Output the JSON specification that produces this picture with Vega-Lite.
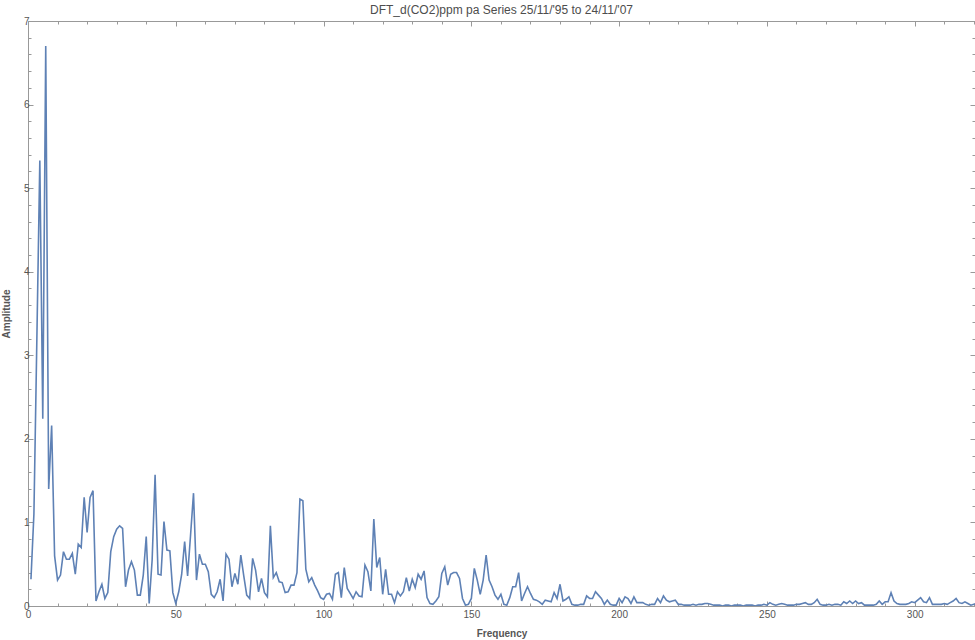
{
  "$schema": "https://vega.github.io/schema/vega-lite/v6.json",
  "autosize": {"type": "none"},
  "padding": {"left": 28, "top": 21, "right": 0, "bottom": 34},
  "width": 947,
  "height": 585,
  "background": "white",
  "title": {"text": "DFT_d(CO2)ppm pa Series 25/11/'95 to 24/11/'07", "font": "Liberation Sans", "fontSize": 12, "fontWeight": "normal", "color": "#4d4d4d", "anchor": "middle", "baseline": "alphabetic", "offset": -10},
  "config": {
    "view": {"stroke": "#999999", "strokeWidth": 1},
    "axis": {"domain": false, "grid": false, "minExtent": 0, "tickColor": "#999999", "tickWidth": 1, "labelFont": "Liberation Sans", "labelFontSize": 10, "labelColor": "#555555", "titleFont": "Liberation Sans", "titleFontSize": 10, "titleFontWeight": "bold", "titleColor": "#555555", "labelFlush": false, "labelOverlap": false}
  },
  "data": {"values": [
    {"f":1,"a":0.32},{"f":2,"a":1.1},{"f":3,"a":3.2},{"f":4,"a":5.33},{"f":5,"a":2.24},{"f":6,"a":6.7},{"f":7,"a":1.4},{"f":8,"a":2.16},{"f":9,"a":0.6},{"f":10,"a":0.31},
    {"f":11,"a":0.37},{"f":12,"a":0.65},{"f":13,"a":0.56},{"f":14,"a":0.56},{"f":15,"a":0.63},{"f":16,"a":0.38},{"f":17,"a":0.74},{"f":18,"a":0.7},{"f":19,"a":1.3},{"f":20,"a":0.88},
    {"f":21,"a":1.3},{"f":22,"a":1.38},{"f":23,"a":0.06},{"f":24,"a":0.17},{"f":25,"a":0.26},{"f":26,"a":0.09},{"f":27,"a":0.16},{"f":28,"a":0.65},{"f":29,"a":0.83},{"f":30,"a":0.92},
    {"f":31,"a":0.96},{"f":32,"a":0.93},{"f":33,"a":0.23},{"f":34,"a":0.43},{"f":35,"a":0.53},{"f":36,"a":0.43},{"f":37,"a":0.13},{"f":38,"a":0.13},{"f":39,"a":0.37},{"f":40,"a":0.83},
    {"f":41,"a":0.03},{"f":42,"a":0.55},{"f":43,"a":1.57},{"f":44,"a":0.38},{"f":45,"a":0.37},{"f":46,"a":1.01},{"f":47,"a":0.67},{"f":48,"a":0.66},{"f":49,"a":0.16},{"f":50,"a":0.03},
    {"f":51,"a":0.17},{"f":52,"a":0.38},{"f":53,"a":0.77},{"f":54,"a":0.36},{"f":55,"a":0.85},{"f":56,"a":1.35},{"f":57,"a":0.31},{"f":58,"a":0.62},{"f":59,"a":0.5},{"f":60,"a":0.5},
    {"f":61,"a":0.41},{"f":62,"a":0.14},{"f":63,"a":0.1},{"f":64,"a":0.17},{"f":65,"a":0.32},{"f":66,"a":0.06},{"f":67,"a":0.62},{"f":68,"a":0.56},{"f":69,"a":0.23},{"f":70,"a":0.39},
    {"f":71,"a":0.26},{"f":72,"a":0.61},{"f":73,"a":0.36},{"f":74,"a":0.13},{"f":75,"a":0.09},{"f":76,"a":0.57},{"f":77,"a":0.43},{"f":78,"a":0.17},{"f":79,"a":0.33},{"f":80,"a":0.16},
    {"f":81,"a":0.11},{"f":82,"a":0.96},{"f":83,"a":0.34},{"f":84,"a":0.4},{"f":85,"a":0.29},{"f":86,"a":0.28},{"f":87,"a":0.16},{"f":88,"a":0.17},{"f":89,"a":0.25},{"f":90,"a":0.25},
    {"f":91,"a":0.4},{"f":92,"a":1.28},{"f":93,"a":1.26},{"f":94,"a":0.44},{"f":95,"a":0.29},{"f":96,"a":0.34},{"f":97,"a":0.25},{"f":98,"a":0.18},{"f":99,"a":0.1},{"f":100,"a":0.08},
    {"f":101,"a":0.14},{"f":102,"a":0.15},{"f":103,"a":0.08},{"f":104,"a":0.38},{"f":105,"a":0.4},{"f":106,"a":0.1},{"f":107,"a":0.46},{"f":108,"a":0.21},{"f":109,"a":0.15},{"f":110,"a":0.09},
    {"f":111,"a":0.17},{"f":112,"a":0.12},{"f":113,"a":0.11},{"f":114,"a":0.49},{"f":115,"a":0.41},{"f":116,"a":0.18},{"f":117,"a":1.04},{"f":118,"a":0.46},{"f":119,"a":0.58},{"f":120,"a":0.14},
    {"f":121,"a":0.44},{"f":122,"a":0.14},{"f":123,"a":0.14},{"f":124,"a":0.04},{"f":125,"a":0.17},{"f":126,"a":0.12},{"f":127,"a":0.17},{"f":128,"a":0.34},{"f":129,"a":0.18},{"f":130,"a":0.32},
    {"f":131,"a":0.22},{"f":132,"a":0.38},{"f":133,"a":0.32},{"f":134,"a":0.42},{"f":135,"a":0.1},{"f":136,"a":0.03},{"f":137,"a":0.02},{"f":138,"a":0.06},{"f":139,"a":0.11},{"f":140,"a":0.39},
    {"f":141,"a":0.47},{"f":142,"a":0.25},{"f":143,"a":0.38},{"f":144,"a":0.4},{"f":145,"a":0.4},{"f":146,"a":0.33},{"f":147,"a":0.09},{"f":148,"a":0.01},{"f":149,"a":0.02},{"f":150,"a":0.09},
    {"f":151,"a":0.45},{"f":152,"a":0.31},{"f":153,"a":0.14},{"f":154,"a":0.31},{"f":155,"a":0.61},{"f":156,"a":0.31},{"f":157,"a":0.23},{"f":158,"a":0.13},{"f":159,"a":0.08},{"f":160,"a":0.14},
    {"f":161,"a":0.02},{"f":162,"a":0.01},{"f":163,"a":0.1},{"f":164,"a":0.23},{"f":165,"a":0.23},{"f":166,"a":0.4},{"f":167,"a":0.06},{"f":168,"a":0.15},{"f":169,"a":0.23},{"f":170,"a":0.15},
    {"f":171,"a":0.08},{"f":172,"a":0.07},{"f":173,"a":0.05},{"f":174,"a":0.02},{"f":175,"a":0.07},{"f":176,"a":0.06},{"f":177,"a":0.05},{"f":178,"a":0.16},{"f":179,"a":0.09},{"f":180,"a":0.26},
    {"f":181,"a":0.06},{"f":182,"a":0.08},{"f":183,"a":0.11},{"f":184,"a":0.02},{"f":185,"a":0.01},{"f":186,"a":0.01},{"f":187,"a":0.02},{"f":188,"a":0.02},{"f":189,"a":0.12},{"f":190,"a":0.09},
    {"f":191,"a":0.09},{"f":192,"a":0.17},{"f":193,"a":0.13},{"f":194,"a":0.09},{"f":195,"a":0.02},{"f":196,"a":0.07},{"f":197,"a":0.02},{"f":198,"a":0.01},{"f":199,"a":0.01},{"f":200,"a":0.09},
    {"f":201,"a":0.04},{"f":202,"a":0.11},{"f":203,"a":0.09},{"f":204,"a":0.03},{"f":205,"a":0.11},{"f":206,"a":0.04},{"f":207,"a":0.04},{"f":208,"a":0.04},{"f":209,"a":0.02},{"f":210,"a":0.01},
    {"f":211,"a":0.02},{"f":212,"a":0.02},{"f":213,"a":0.09},{"f":214,"a":0.04},{"f":215,"a":0.12},{"f":216,"a":0.07},{"f":217,"a":0.05},{"f":218,"a":0.06},{"f":219,"a":0.07},{"f":220,"a":0.02},
    {"f":221,"a":0.02},{"f":222,"a":0.01},{"f":223,"a":0.01},{"f":224,"a":0.01},{"f":225,"a":0.02},{"f":226,"a":0.01},{"f":227,"a":0.02},{"f":228,"a":0.02},{"f":229,"a":0.03},{"f":230,"a":0.03},
    {"f":231,"a":0.02},{"f":232,"a":0.01},{"f":233,"a":0.01},{"f":234,"a":0.01},{"f":235,"a":0.0},{"f":236,"a":0.01},{"f":237,"a":0.01},{"f":238,"a":0.0},{"f":239,"a":0.01},{"f":240,"a":0.01},
    {"f":241,"a":0.01},{"f":242,"a":0.0},{"f":243,"a":0.01},{"f":244,"a":0.01},{"f":245,"a":0.01},{"f":246,"a":0.0},{"f":247,"a":0.01},{"f":248,"a":0.01},{"f":249,"a":0.02},{"f":250,"a":0.01},
    {"f":251,"a":0.04},{"f":252,"a":0.02},{"f":253,"a":0.01},{"f":254,"a":0.02},{"f":255,"a":0.03},{"f":256,"a":0.02},{"f":257,"a":0.01},{"f":258,"a":0.01},{"f":259,"a":0.01},{"f":260,"a":0.02},
    {"f":261,"a":0.02},{"f":262,"a":0.03},{"f":263,"a":0.04},{"f":264,"a":0.02},{"f":265,"a":0.02},{"f":266,"a":0.04},{"f":267,"a":0.08},{"f":268,"a":0.02},{"f":269,"a":0.01},{"f":270,"a":0.01},
    {"f":271,"a":0.02},{"f":272,"a":0.01},{"f":273,"a":0.02},{"f":274,"a":0.02},{"f":275,"a":0.01},{"f":276,"a":0.05},{"f":277,"a":0.03},{"f":278,"a":0.06},{"f":279,"a":0.03},{"f":280,"a":0.06},
    {"f":281,"a":0.03},{"f":282,"a":0.04},{"f":283,"a":0.01},{"f":284,"a":0.01},{"f":285,"a":0.01},{"f":286,"a":0.01},{"f":287,"a":0.02},{"f":288,"a":0.06},{"f":289,"a":0.02},{"f":290,"a":0.05},
    {"f":291,"a":0.05},{"f":292,"a":0.16},{"f":293,"a":0.06},{"f":294,"a":0.03},{"f":295,"a":0.02},{"f":296,"a":0.02},{"f":297,"a":0.02},{"f":298,"a":0.03},{"f":299,"a":0.05},{"f":300,"a":0.04},
    {"f":301,"a":0.07},{"f":302,"a":0.1},{"f":303,"a":0.05},{"f":304,"a":0.04},{"f":305,"a":0.1},{"f":306,"a":0.02},{"f":307,"a":0.02},{"f":308,"a":0.02},{"f":309,"a":0.02},{"f":310,"a":0.03},
    {"f":311,"a":0.02},{"f":312,"a":0.04},{"f":313,"a":0.06},{"f":314,"a":0.09},{"f":315,"a":0.04},{"f":316,"a":0.03},{"f":317,"a":0.05},{"f":318,"a":0.03},{"f":319,"a":0.01},{"f":320,"a":0.02},
    {"f":321,"a":0.03}
  ]},
  "layer": [
    {
      "mark": {"type": "line", "color": "#5E81B5", "strokeWidth": 1.6, "clip": true},
      "encoding": {
        "x": {"field": "f", "type": "quantitative", "scale": {"domain": [0, 320.4], "nice": false, "zero": false},
          "axis": {"orient": "bottom", "title": "Frequency", "values": [0,10,20,30,40,50,60,70,80,90,100,110,120,130,140,150,160,170,180,190,200,210,220,230,240,250,260,270,280,290,300,310,320],
            "labelExpr": "datum.value % 50 === 0 ? datum.label : ''",
            "tickSize": {"condition": {"test": "datum.value % 50 === 0", "value": -5}, "value": -3},
            "labelPadding": 8, "titlePadding": 7}},
        "y": {"field": "a", "type": "quantitative", "scale": {"domain": [0, 7], "nice": false},
          "axis": {"orient": "left", "title": "Amplitude", "values": [0,0.2,0.4,0.6,0.8,1,1.2,1.4,1.6,1.8,2,2.2,2.4,2.6,2.8,3,3.2,3.4,3.6,3.8,4,4.2,4.4,4.6,4.8,5,5.2,5.4,5.6,5.8,6,6.2,6.4,6.6,6.8,7],
            "labelExpr": "abs(datum.value - round(datum.value)) < 0.001 ? format(datum.value, 'd') : ''",
            "tickSize": {"condition": {"test": "abs(datum.value - round(datum.value)) < 0.001", "value": -5}, "value": -3},
            "labelPadding": 4, "titlePadding": 12}}
      }
    },
    {
      "mark": {"type": "line", "strokeOpacity": 0, "clip": true},
      "encoding": {
        "x": {"field": "f", "type": "quantitative",
          "axis": {"orient": "top", "title": null, "labels": false, "values": [0,10,20,30,40,50,60,70,80,90,100,110,120,130,140,150,160,170,180,190,200,210,220,230,240,250,260,270,280,290,300,310,320],
            "tickSize": {"condition": {"test": "datum.value % 50 === 0", "value": -5}, "value": -3}}},
        "y": {"field": "a", "type": "quantitative",
          "axis": {"orient": "right", "title": null, "labels": false, "values": [0,0.2,0.4,0.6,0.8,1,1.2,1.4,1.6,1.8,2,2.2,2.4,2.6,2.8,3,3.2,3.4,3.6,3.8,4,4.2,4.4,4.6,4.8,5,5.2,5.4,5.6,5.8,6,6.2,6.4,6.6,6.8,7],
            "tickSize": {"condition": {"test": "abs(datum.value - round(datum.value)) < 0.001", "value": -5}, "value": -3}}}
      }
    }
  ],
  "resolve": {"axis": {"x": "independent", "y": "independent"}}
}
